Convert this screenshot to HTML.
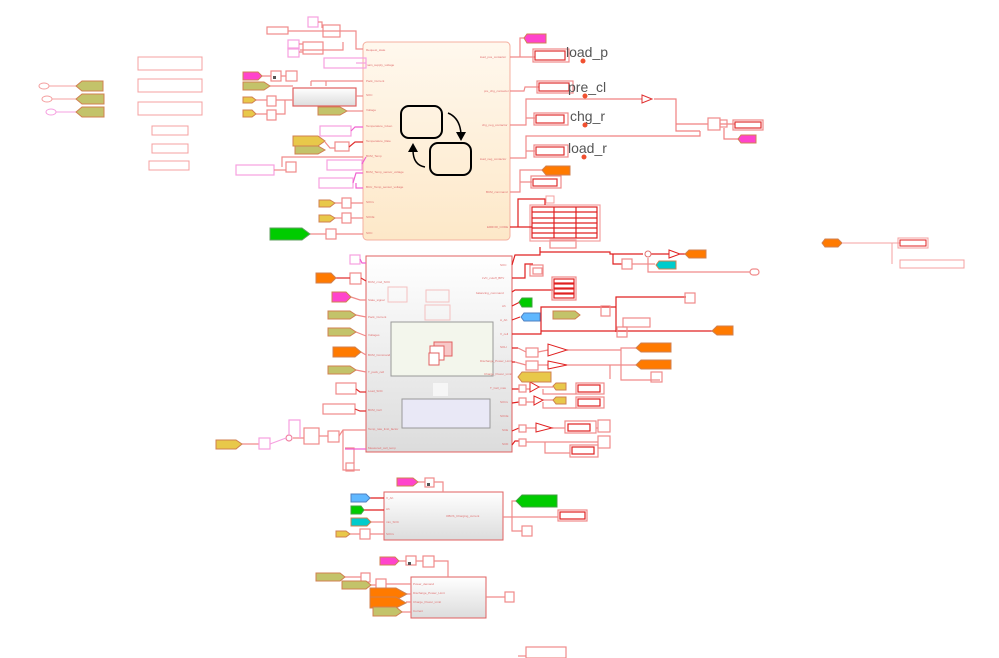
<!DOCTYPE html>
<html><head><meta charset="utf-8"><style>
html,body{margin:0;padding:0;background:#fff;width:999px;height:658px;overflow:hidden}
svg{display:block}
text{font-family:"Liberation Sans",sans-serif}
</style></head><body>
<svg width="999" height="658" viewBox="0 0 999 658" xmlns="http://www.w3.org/2000/svg">
<defs>
<linearGradient id="g1" x1="0" y1="0" x2="0" y2="1"><stop offset="0" stop-color="#fff8ee"/><stop offset="1" stop-color="#fde8c8"/></linearGradient>
<linearGradient id="g2" x1="0" y1="0" x2="0" y2="1"><stop offset="0" stop-color="#ffffff"/><stop offset="1" stop-color="#dcdcdc"/></linearGradient>
</defs>
<g fill="none" stroke="#f4a0a0" stroke-width="1">
<rect x="138" y="57" width="64" height="13"/><rect x="138" y="79" width="64" height="13"/><rect x="138" y="102" width="64" height="13"/>
<rect x="152" y="126" width="36" height="9"/><rect x="152" y="144" width="36" height="9"/><rect x="149" y="161" width="40" height="9"/>
<ellipse cx="44" cy="86" rx="5" ry="3"/><ellipse cx="47" cy="99" rx="5" ry="3"/><ellipse cx="51" cy="112" rx="5" ry="3" stroke="#f6a0e0"/>
<path d="M49,86 78,86"/><path d="M52,99 78,99"/><path d="M56,112 78,112" stroke="#f6a0e0"/>
</g>
<g fill="#c3c36a" stroke="#d08050" stroke-width="1">
<polygon points="76,86 82,81 103,81 103,91 82,91"/><polygon points="76,99 82,94 104,94 104,104 82,104"/><polygon points="76,112 82,107 104,107 104,117 82,117"/>
</g>

<rect x="363" y="42" width="147" height="198" rx="4" fill="url(#g1)" stroke="#f4b0a0"/>
<rect x="401" y="106" width="41" height="32" rx="8" fill="none" stroke="#000" stroke-width="2"/>
<rect x="430" y="143" width="41" height="32" rx="8" fill="none" stroke="#000" stroke-width="2"/>
<path d="M448 113 Q460 118 461 134" fill="none" stroke="#000" stroke-width="1.5"/><polygon points="456,132 466,132 461,141" fill="#000"/>
<path d="M425 167 Q413 165 413 150" fill="none" stroke="#000" stroke-width="1.5"/><polygon points="408,152 418,152 413,143" fill="#000"/>
<g font-size="3" fill="#e07070">
<text x="366" y="51">Request_state</text><text x="366" y="66">main_supply_voltage</text><text x="366" y="82">Pack_Current</text><text x="366" y="96">SOC</text><text x="366" y="111">Voltage</text><text x="366" y="127">Temperature_Given</text><text x="366" y="142">Temperature_Rate</text><text x="366" y="157">BCM_Temp</text><text x="366" y="173">BCM_Temp_sensor_voltage</text><text x="366" y="188">BCU_Temp_sensor_voltage</text><text x="366" y="203">SOCx</text><text x="366" y="218">SOCE</text><text x="366" y="234">SOC</text>
<text x="480" y="58">load_pos_contactor</text><text x="484" y="92">pre_chg_contactor</text><text x="482" y="126">chg_neg_contactor</text><text x="480" y="160">load_neg_contactor</text><text x="486" y="193">BCM_command</text><text x="487" y="228">ERROR_CODE</text>
</g>
<g fill="none" stroke="#f08a8a" stroke-width="1.2">
<rect x="308" y="17" width="10" height="10" stroke="#f6a0e0"/><rect x="267" y="27" width="21" height="7"/><rect x="323" y="25" width="17" height="12"/><rect x="288" y="40" width="11" height="9" stroke="#f6a0e0"/><rect x="303" y="42" width="20" height="12"/><rect x="288" y="48" width="11" height="9" stroke="#f6a0e0"/>
<path d="M288,31 356,31 356,49 363,49"/><path d="M300,50 343,50 343,42"/><path d="M299,44 303,44 M299,52 303,52 M318,22 322,22 322,28"/>
<rect x="324" y="58" width="42" height="10" stroke="#f6a0e0"/><path d="M366,63 356,63" stroke="#f6a0e0"/>
<rect x="271" y="71" width="10" height="10"/><rect x="286" y="71" width="11" height="10"/><path d="M262,76 271,76 M281,76 286,76"/>
<rect x="293" y="88" width="63" height="18" fill="url(#g2)" stroke="#e06060"/>
<rect x="267" y="96" width="9" height="10"/><rect x="267" y="110" width="9" height="10"/>
<path d="M276,100 293,100"/><path d="M276,114 285,114 285,100"/><path d="M270,86 293,86"/><path d="M311,81 363,81 M326,81 326,86 M311,81 311,86"/><path d="M356,96 363,96"/><path d="M347,111 363,111"/>
<path d="M256,100 267,100 M256,114 267,114"/>
<rect x="320" y="126" width="31" height="10" stroke="#f6a0e0"/><path d="M351,131 355,127 363,127" stroke="#f060d0"/>
<rect x="335" y="142" width="14" height="9"/><path d="M325,142 330,148 335,148"/><path d="M349,147 355,142 363,142" stroke="#e03030"/>
<rect x="236" y="165" width="38" height="10" stroke="#f6a0e0"/><rect x="286" y="162" width="10" height="10"/><path d="M274,170 286,170"/><path d="M282,167 282,157 363,157"/>
<rect x="327" y="160" width="35" height="10" stroke="#f6a0e0"/><path d="M362,164 366,157" stroke="#f060d0"/>
<rect x="319" y="178" width="34" height="10" stroke="#f6a0e0"/><path d="M353,183 356,173 363,173 M356,183 356,188 363,188" stroke="#f060d0"/>
<rect x="342" y="198" width="9" height="10"/><rect x="342" y="213" width="9" height="10"/><rect x="326" y="229" width="10" height="10"/>
<path d="M335,203 342,203 M351,203 363,203 M335,218 342,218 M351,218 363,218 M310,234 326,234 M336,234 363,234"/>
</g>
<g stroke="#d08050">
<polygon points="243,72 258,72 262,76 258,80 243,80" fill="#ff44cc"/>
<polygon points="243,82 264,82 270,86 264,90 243,90" fill="#c3c36a"/>
<polygon points="243,97 252,97 256,100 252,103 243,103" fill="#e8c84a"/>
<polygon points="243,110 252,110 256,114 252,117 243,117" fill="#e8c84a"/>
<polygon points="318,107 340,107 347,111 340,115 318,115" fill="#c3c36a"/>
<polygon points="293,136 318,136 325,141 318,146 293,146" fill="#e8c84a"/>
<polygon points="295,146 318,146 325,150 318,154 295,154" fill="#c3c36a"/>
<polygon points="319,200 330,200 335,203 330,207 319,207" fill="#e8c84a"/>
<polygon points="319,215 330,215 335,218 330,222 319,222" fill="#e8c84a"/>
<polygon points="270,228 302,228 310,234 302,240 270,240" fill="#00cc00" stroke="#60a060"/>
</g>
<rect x="273" y="76" width="3" height="3" fill="#555"/>

<g fill="none" stroke="#f08a8a" stroke-width="1.2">
<path d="M510,57 520,57 520,38 527,38 M510,57 535,57"/>
<rect x="535" y="51" width="30" height="9" stroke="#e03030"/><rect x="533" y="49" width="36" height="13"/>
<path d="M510,91 524,91 525,87 539,87"/><rect x="539" y="83" width="30" height="8" stroke="#e03030"/><rect x="537" y="81" width="36" height="12"/>
<path d="M510,125 526,125 526,99 610,99 M526,118 535,118"/><rect x="536" y="115" width="28" height="8" stroke="#e03030"/><rect x="534" y="113" width="34" height="12"/>
<path d="M510,158 526,158 526,136 610,136 M526,151 535,151"/><rect x="536" y="147" width="28" height="8" stroke="#e03030"/><rect x="534" y="145" width="34" height="12"/>
<path d="M510,192 520,192 520,170 543,170 M520,182 532,182"/><rect x="533" y="179" width="24" height="7" stroke="#e03030"/><rect x="531" y="176" width="30" height="12"/>
<rect x="550" y="240" width="26" height="8"/>
<path d="M610,99 642,99 M654,99 676,99 676,131 700,131 M610,136 700,136 700,131 M676,124 708,124 M720,124 735,124 M724,128 724,139 740,139" stroke="#f08080"/>
<rect x="708" y="118" width="12" height="12"/><rect x="720" y="120" width="7" height="7"/>
<rect x="735" y="122" width="26" height="6" stroke="#e03030"/><rect x="733" y="120" width="30" height="10"/>
</g>
<polygon points="642,95 652,99 642,103" fill="none" stroke="#e03030"/>
<g stroke="#d08050">
<polygon points="527,34 546,34 546,43 527,43 524,38" fill="#ff44cc"/>
<polygon points="546,166 570,166 570,175 546,175 542,170" fill="#ff7a00"/>
<polygon points="741,135 756,135 756,143 741,143 738,139" fill="#ff44cc"/>
</g>
<g font-size="14" fill="#555"><text x="566" y="57">load_p</text><text x="568" y="92">pre_cl</text><text x="570" y="121">chg_r</text><text x="568" y="153">load_r</text></g>
<g fill="#f05030"><circle cx="583" cy="61" r="2.5"/><circle cx="585" cy="96" r="2.5"/><circle cx="585" cy="125" r="2.5"/><circle cx="584" cy="157" r="2.5"/></g>
<g fill="none" stroke="#e02020" stroke-width="1.2">
<rect x="530" y="205" width="70" height="36" stroke="#f4a0a0"/>
<rect x="532" y="207" width="65" height="31"/>
<path d="M532,212 597,212 M532,218 597,218 M532,223 597,223 M532,228 597,228 M532,233 597,233 M554,207 554,238 M576,207 576,238"/>
<path d="M510,227 518,227 518,199 545,199 545,205 M518,227 532,227"/>
</g>
<rect x="546" y="196" width="8" height="7" fill="none" stroke="#f4a0a0"/>

<rect x="366" y="256" width="146" height="196" fill="url(#g2)" stroke="#e06060"/>
<rect x="391" y="322" width="102" height="54" fill="#f3f6ec" stroke="#999"/>
<rect x="402" y="399" width="88" height="29" fill="#e9e8f6" stroke="#999"/>
<rect x="433" y="383" width="15" height="13" fill="#f6f6f6"/>
<rect x="434" y="342" width="18" height="14" fill="#f7c8c8" stroke="#e06060"/>
<rect x="430" y="346" width="14" height="14" fill="#fff" stroke="#e06060"/>
<rect x="429" y="353" width="10" height="12" fill="#fff" stroke="#e06060"/>
<g fill="none" stroke="#f4c0c0"><rect x="388" y="287" width="19" height="15"/><rect x="426" y="290" width="23" height="12"/><rect x="425" y="305" width="25" height="15"/></g>
<g font-size="3" fill="#e07070">
<text x="368" y="283">BCM_cmd_SOC</text><text x="368" y="301">State_signal</text><text x="368" y="318">Pack_Current</text><text x="368" y="336">Voltages</text><text x="368" y="356">BCM_Command</text><text x="368" y="373">T_pack_cell</text><text x="368" y="392">Load_SOC</text><text x="368" y="411">BCM_Cell</text><text x="368" y="430">Temp_rate_limit_factor</text><text x="368" y="449">Measured_cell_temp</text>
<text x="500" y="266">SOC</text><text x="482" y="279">LVC_cutoff_BPV</text><text x="476" y="294">balancing_command</text><text x="502" y="307">Ah</text><text x="500" y="321">A_Ah</text><text x="500" y="335">V_cell</text><text x="500" y="348">SOH</text><text x="480" y="362">Discharge_Power_Limit</text><text x="484" y="375">Charge_Power_Limit</text><text x="490" y="389">T_Cell_max</text><text x="500" y="403">SOCx</text><text x="500" y="417">SOCE</text><text x="502" y="431">SCE</text><text x="502" y="445">SCD</text>
</g>
<g fill="none" stroke="#f08a8a" stroke-width="1.2">
<rect x="350" y="255" width="10" height="9" stroke="#f6a0e0"/><path d="M360,259 362,263 366,263" stroke="#f060d0"/>
<rect x="350" y="273" width="11" height="11"/><path d="M336,278 350,278 M361,278 366,281" stroke="#e03030"/>
<path d="M351,297 360,300 366,300 M356,315 366,317 M356,332 366,336 M361,352 366,355 M356,370 366,372"/>
<rect x="336" y="383" width="20" height="11"/><path d="M356,389 360,392 366,392" stroke="#e03030"/>
<rect x="323" y="404" width="32" height="10"/><path d="M355,409 360,411 366,411" stroke="#e03030"/>
<rect x="304" y="428" width="15" height="16"/><rect x="328" y="431" width="11" height="11"/>
<path d="M319,436 328,436 M339,436 343,430 366,430 M343,430 343,470 360,470 M345,448 354,448 354,463 M242,444 259,444 M293,438 304,438"/>
<rect x="259" y="438" width="11" height="11" stroke="#f6a0e0"/><circle cx="289" cy="438" r="3" stroke="#f080a0"/>
<rect x="346" y="463" width="8" height="8"/>
<path d="M270,444 286,438 M289,435 289,420 300,420 300,438" stroke="#f6a0e0"/>
<path d="M345,449 366,449" stroke="#f060d0"/>
</g>
<g stroke="#d08050">
<polygon points="316,273 331,273 336,278 331,283 316,283" fill="#ff7a00"/>
<polygon points="332,292 346,292 351,297 346,302 332,302" fill="#ff44cc"/>
<polygon points="328,311 350,311 356,315 350,319 328,319" fill="#c3c36a"/>
<polygon points="328,328 350,328 356,332 350,336 328,336" fill="#c3c36a"/>
<polygon points="333,347 355,347 361,352 355,357 333,357" fill="#ff7a00"/>
<polygon points="328,366 350,366 356,370 350,374 328,374" fill="#c3c36a"/>
<polygon points="216,440 236,440 242,444 236,449 216,449" fill="#e8c84a"/>
</g>
<g fill="none" stroke="#e02020" stroke-width="1.2">
<path d="M512,265 515,255 540,255 540,252 610,252 610,254 643,254 M540,252 540,247 M613,254 613,264 622,264 M651,254 669,254 M680,254 686,254"/>
<path d="M512,278 525,278 525,264 533,264"/>
<path d="M512,292 515,290 553,290"/>
<path d="M512,306 520,302 M512,320 520,317"/>
<path d="M512,334 541,334 541,307 616,307 616,297 686,297 M616,297 616,332 M541,331 713,331"/>
<path d="M512,348 518,348 M512,362 515,362"/>
<path d="M512,389 519,389 M512,403 519,402 M512,431 519,428 M512,445 515,441 519,441"/>
</g>
<g fill="none" stroke="#f08a8a" stroke-width="1.2">
<rect x="530" y="265" width="13" height="11"/><rect x="533" y="268" width="9" height="6"/>
<rect x="552" y="277" width="24" height="23"/><g stroke="#e02020"><rect x="554" y="279" width="20" height="4"/><rect x="554" y="284" width="20" height="4"/><rect x="554" y="289" width="20" height="4"/><rect x="554" y="294" width="20" height="4"/></g>
<rect x="622" y="259" width="10" height="10"/><path d="M632,264 655,264 M648,258 648,272 750,272"/>
<rect x="685" y="293" width="10" height="10"/><rect x="623" y="318" width="27" height="9"/><rect x="617" y="327" width="10" height="10"/>
<rect x="601" y="306" width="9" height="10"/>
<rect x="526" y="348" width="12" height="9"/><rect x="526" y="361" width="12" height="9"/>
<path d="M518,348 526,352 M515,362 526,365 M538,352 548,350 M538,365 548,365 M567,350 621,350 621,348 636,348 M567,365 636,365 M621,350 621,380 660,380 M610,365 610,379"/>
<rect x="651" y="372" width="11" height="10"/>
<rect x="519" y="385" width="7" height="7"/><rect x="519" y="398" width="7" height="7"/><rect x="519" y="425" width="7" height="7"/><rect x="519" y="439" width="7" height="7"/>
<path d="M526,389 530,389 M539,387 553,387 M526,402 534,402 M543,400 553,400 M526,428 536,428 M552,428 565,428 M526,442 545,442 545,453 570,453 M545,442 598,442 M543,389 543,394 576,394 M543,402 543,408 576,408 M596,428 598,428"/>
<rect x="578" y="385" width="22" height="7" stroke="#e02020"/><rect x="576" y="383" width="28" height="11"/>
<rect x="578" y="399" width="22" height="7" stroke="#e02020"/><rect x="576" y="397" width="28" height="11"/>
<rect x="568" y="424" width="22" height="7" stroke="#e02020"/><rect x="565" y="421" width="31" height="12"/>
<rect x="572" y="447" width="22" height="7" stroke="#e02020"/><rect x="570" y="445" width="28" height="12"/>
<rect x="598" y="420" width="12" height="12"/><rect x="598" y="436" width="12" height="12"/>
<rect x="750" y="269" width="9" height="6" rx="3"/>
</g>
<g fill="none" stroke="#e02020">
<polygon points="548,344 548,356 567,350"/><polygon points="548,361 548,369 567,365"/>
<polygon points="530,382 530,392 539,387"/><polygon points="534,396 534,405 543,400"/><polygon points="536,423 536,432 552,428"/>
<polygon points="669,250 669,258 680,254"/>
</g>
<circle cx="648" cy="254" r="3" fill="#fff" stroke="#e07070"/>
<g stroke="#d08050">
<polygon points="522,298 532,298 532,307 522,307 519,302" fill="#00cc00" stroke="#40a040"/>
<polygon points="524,313 540,313 540,321 524,321 521,317" fill="#60b8ff" stroke="#5080c0"/>
<polygon points="553,311 575,311 580,315 575,319 553,319" fill="#c3c36a"/>
<polygon points="689,250 706,250 706,258 689,258 685,254" fill="#ff7a00"/>
<polygon points="659,261 676,261 676,269 659,269 656,265" fill="#00cccc"/>
<polygon points="717,326 733,326 733,335 717,335 712,331" fill="#ff7a00"/>
<polygon points="641,343 671,343 671,352 641,352 636,348" fill="#ff7a00"/>
<polygon points="641,360 671,360 671,369 641,369 636,365" fill="#ff7a00"/>
<polygon points="522,372 551,372 551,382 522,382 518,377" fill="#e8c84a"/>
<polygon points="556,383 566,383 566,390 556,390 553,386" fill="#e8c84a"/>
<polygon points="556,397 566,397 566,404 556,404 553,400" fill="#e8c84a"/>
<polygon points="825,239 838,239 842,243 838,247 825,247 822,243" fill="#ff7a00"/>
</g>
<path d="M842,243 892,243 892,264 M892,243 900,243" fill="none" stroke="#f4a0a0"/>
<rect x="900" y="240" width="26" height="6" fill="none" stroke="#e02020"/><rect x="898" y="238" width="30" height="10" fill="none" stroke="#f4a0a0"/>
<rect x="900" y="260" width="64" height="8" fill="none" stroke="#f4a0a0"/>

<rect x="384" y="492" width="119" height="48" fill="url(#g2)" stroke="#e06060"/>
<g font-size="3" fill="#e07070"><text x="386" y="499">V_Ah</text><text x="386" y="510">Ah</text><text x="386" y="523">min_SOC</text><text x="386" y="535">SOCx</text><text x="446" y="517">OBCS_Charging_current</text></g>
<g fill="none" stroke="#f08a8a" stroke-width="1.2">
<rect x="425" y="478" width="9" height="9"/><path d="M418,482 425,482 M434,482 443,482 443,492 M371,522 384,522 M350,534 360,534 M370,534 384,534 M503,517 512,517 512,501 516,501 M512,517 558,517 M512,517 512,531 522,531"/>
<rect x="360" y="529" width="10" height="10"/><rect x="522" y="526" width="10" height="10"/>
<rect x="560" y="512" width="25" height="7" stroke="#e02020"/><rect x="558" y="510" width="29" height="11"/>
</g>
<path d="M370,498 384,498 M364,510 384,510" fill="none" stroke="#e02020" stroke-width="1.2"/>
<rect x="427" y="483" width="3" height="3" fill="#555"/>
<g stroke="#d08050">
<polygon points="397,478 413,478 418,482 413,486 397,486" fill="#ff44cc"/>
<polygon points="351,494 366,494 370,498 366,502 351,502" fill="#60b8ff" stroke="#5080c0"/>
<polygon points="351,506 361,506 364,510 361,514 351,514" fill="#00cc00" stroke="#40a040"/>
<polygon points="351,518 367,518 371,522 367,526 351,526" fill="#00cccc"/>
<polygon points="336,531 346,531 350,534 346,537 336,537" fill="#e8c84a"/>
<polygon points="522,495 557,495 557,507 522,507 516,501" fill="#00cc00" stroke="#40a040"/>
</g>

<rect x="411" y="577" width="75" height="41" fill="url(#g2)" stroke="#e06060"/>
<g font-size="3" fill="#e07070"><text x="413" y="585">Power_demand</text><text x="413" y="594">Discharge_Power_Limit</text><text x="413" y="603">Charge_Power_Limit</text><text x="413" y="612">Current</text></g>
<g fill="none" stroke="#f08a8a" stroke-width="1.2">
<rect x="406" y="556" width="10" height="9"/><rect x="423" y="556" width="11" height="11"/><rect x="361" y="573" width="9" height="9"/><rect x="376" y="579" width="10" height="10"/>
<path d="M399,561 406,561 M416,561 423,561 M434,561 448,561 448,577 M386,584 411,584 M407,594 411,594 M406,602 411,602 M402,612 411,612 M486,597 505,597 M345,577 361,577 M371,585 376,585"/>
<rect x="505" y="592" width="9" height="10"/>
<rect x="526" y="647" width="40" height="11"/><path d="M518,656 526,656"/>
</g>
<rect x="408" y="562" width="3" height="3" fill="#555"/>
<g stroke="#d08050">
<polygon points="380,557 395,557 399,561 395,565 380,565" fill="#ff44cc"/>
<polygon points="316,573 340,573 345,577 340,581 316,581" fill="#c3c36a"/>
<polygon points="342,581 366,581 371,585 366,589 342,589" fill="#c3c36a"/>
<polygon points="370,588 396,588 407,594 396,600 370,600" fill="#ff7a00"/>
<polygon points="370,597 396,597 406,603 396,608 370,608" fill="#ff7a00"/>
<polygon points="373,607 396,607 402,612 396,616 373,616" fill="#c3c36a"/>
</g>
</svg>
</body></html>
